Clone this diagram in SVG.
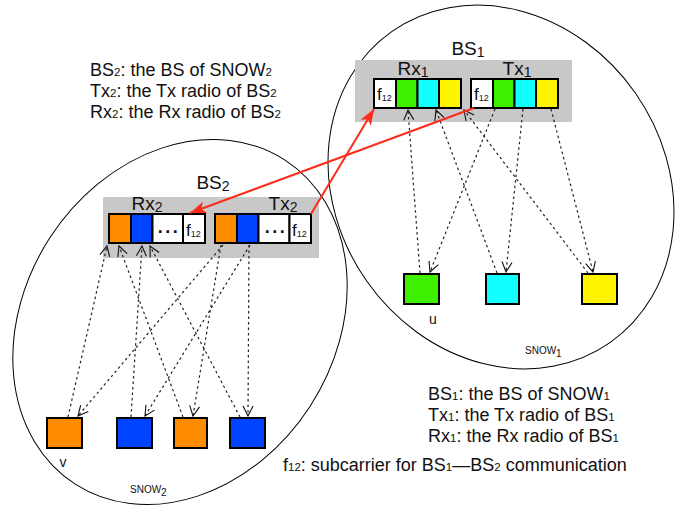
<svg xmlns="http://www.w3.org/2000/svg" width="692" height="514" viewBox="0 0 692 514">
<style>
text{font-family:"Liberation Sans",Arial,sans-serif;fill:#111}
.bg{fill:#c8c8c8}
.cell{stroke:#000;stroke-width:2}
.w{fill:#fff}.g{fill:#3ef000}.c{fill:#12ffff}.y{fill:#fff500}.o{fill:#ff8c00}.b{fill:#0044ff}
.ell{fill:none;stroke:#000;stroke-width:1}
.dash{fill:none;stroke:#222;stroke-width:1.2;stroke-dasharray:2.5 3}
.red{fill:none;stroke:#ff2a1a;stroke-width:2}
.big{font-size:19px}
.leg{font-size:18px}
.f{font-size:17px}
.dots{font-size:18px;font-weight:bold;letter-spacing:2.5px}
</style>
<defs>
<marker id="av" markerUnits="userSpaceOnUse" markerWidth="12" markerHeight="12" refX="10" refY="5" orient="auto" overflow="visible">
<path d="M0,0 L10,5 L0,10" fill="none" stroke="#111" stroke-width="1.1"/>
</marker>
<marker id="ar" markerUnits="userSpaceOnUse" markerWidth="18" markerHeight="14" refX="16" refY="6" orient="auto" overflow="visible">
<path d="M0,0 L16,6 L0,12 L4,6 Z" fill="#ff2a1a"/>
</marker>
</defs>

<ellipse class="ell" cx="501" cy="187" rx="164" ry="190" transform="rotate(-35 501 187)"/>
<ellipse class="ell" cx="180" cy="322" rx="155" ry="193" transform="rotate(33 180 322)"/>

<g id="legend2">
<text class="leg" x="90" y="76">BS<tspan font-size="11.5">2</tspan>: the BS of SNOW<tspan font-size="11.5">2</tspan></text>
<text class="leg" x="90" y="97">Tx<tspan font-size="11.5">2</tspan>: the Tx radio of BS<tspan font-size="11.5">2</tspan></text>
<text class="leg" x="90" y="118">Rx<tspan font-size="11.5">2</tspan>: the Rx radio of BS<tspan font-size="11.5">2</tspan></text>
</g>
<g id="legend1">
<text class="leg" x="428" y="400">BS<tspan font-size="11.5">1</tspan>: the BS of SNOW<tspan font-size="11.5">1</tspan></text>
<text class="leg" x="428" y="421">Tx<tspan font-size="11.5">1</tspan>: the Tx radio of BS<tspan font-size="11.5">1</tspan></text>
<text class="leg" x="428" y="442">Rx<tspan font-size="11.5">1</tspan>: the Rx radio of BS<tspan font-size="11.5">1</tspan></text>
<text class="leg" x="283" y="471">f<tspan font-size="11.5">12</tspan>: subcarrier for BS<tspan font-size="11.5">1</tspan>—BS<tspan font-size="11.5">2</tspan> communication</text>
</g>

<g id="bs1">
<rect class="bg" x="355" y="60" width="217" height="62"/>
<text class="big" x="468" y="55" text-anchor="middle">BS<tspan font-size="14" dy="2">1</tspan></text>
<text class="big" x="413" y="75" text-anchor="middle">Rx<tspan font-size="14" dy="2">1</tspan></text>
<text class="big" x="517" y="75" text-anchor="middle">Tx<tspan font-size="14" dy="2">1</tspan></text>
<rect class="cell w" x="374" y="79" width="22" height="29"/>
<rect class="cell g" x="396" y="79" width="21.5" height="29"/>
<rect class="cell c" x="417.5" y="79" width="21.5" height="29"/>
<rect class="cell y" x="439" y="79" width="22" height="29"/>
<text class="f" x="377" y="100">f<tspan font-size="9" dy="1">12</tspan></text>
<rect class="cell w" x="471" y="79" width="22" height="29"/>
<rect class="cell g" x="493" y="79" width="21.5" height="29"/>
<rect class="cell c" x="514.5" y="79" width="21.5" height="29"/>
<rect class="cell y" x="536" y="79" width="22" height="29"/>
<text class="f" x="474" y="100">f<tspan font-size="9" dy="1">12</tspan></text>
</g>

<g id="bs2">
<rect class="bg" x="103" y="197" width="216" height="61"/>
<text class="big" x="213" y="189" text-anchor="middle">BS<tspan font-size="14" dy="2">2</tspan></text>
<text class="big" x="147" y="210" text-anchor="middle">Rx<tspan font-size="14" dy="2">2</tspan></text>
<text class="big" x="283" y="210" text-anchor="middle">Tx<tspan font-size="14" dy="2">2</tspan></text>
<rect class="cell o" x="109" y="214" width="22" height="29"/>
<rect class="cell b" x="131" y="214" width="21.5" height="29"/>
<rect class="cell w" x="152.5" y="214" width="30.5" height="29"/>
<rect class="cell w" x="183" y="214" width="22" height="29"/>
<text class="dots" x="169" y="233" text-anchor="middle">...</text>
<text class="f" x="186" y="236">f<tspan font-size="9" dy="1">12</tspan></text>
<rect class="cell o" x="215" y="214" width="22" height="29"/>
<rect class="cell b" x="237" y="214" width="21.5" height="29"/>
<rect class="cell w" x="258.5" y="214" width="31" height="29"/>
<rect class="cell w" x="289.5" y="214" width="21.5" height="29"/>
<text class="dots" x="276" y="233" text-anchor="middle">...</text>
<text class="f" x="292" y="236">f<tspan font-size="9" dy="1">12</tspan></text>
</g>

<g id="snow1">
<g id="node-u"><rect class="cell g" x="404" y="274" width="35" height="30"/><text x="433" y="324" font-size="14" text-anchor="middle">u</text></g>
<g id="node-cyan"><rect class="cell c" x="486" y="274" width="33" height="30"/></g>
<g id="node-yellow"><rect class="cell y" x="582" y="274" width="35" height="30"/></g>
<text x="525" y="354" font-size="10">SNOW<tspan dy="3">1</tspan></text>
</g>

<g id="snow2">
<g id="node-v"><rect class="cell o" x="47" y="418" width="35" height="30"/><text x="63" y="467" font-size="14" text-anchor="middle">v</text></g>
<g id="node-blue1"><rect class="cell b" x="117" y="418" width="35" height="30"/></g>
<g id="node-orange2"><rect class="cell o" x="174" y="418" width="33" height="30"/></g>
<g id="node-blue2"><rect class="cell b" x="230" y="418" width="35" height="30"/></g>
<text x="130" y="493" font-size="10">SNOW<tspan dy="3">2</tspan></text>
</g>

<g id="connectors">
<line class="dash" x1="420" y1="273" x2="408" y2="110" marker-end="url(#av)"/>
<line class="dash" x1="497" y1="273" x2="436" y2="110" marker-end="url(#av)"/>
<line class="dash" x1="588" y1="273" x2="464" y2="110" marker-end="url(#av)"/>
<line class="dash" x1="495" y1="109" x2="430" y2="272" marker-end="url(#av)"/>
<line class="dash" x1="523" y1="109" x2="506" y2="272" marker-end="url(#av)"/>
<line class="dash" x1="551" y1="109" x2="593" y2="272" marker-end="url(#av)"/>

<line class="dash" x1="68" y1="417" x2="107" y2="246" marker-end="url(#av)"/>
<line class="dash" x1="183" y1="417" x2="119" y2="246" marker-end="url(#av)"/>
<line class="dash" x1="131" y1="417" x2="142" y2="246" marker-end="url(#av)"/>
<line class="dash" x1="240" y1="417" x2="150" y2="246" marker-end="url(#av)"/>
<line class="dash" x1="223" y1="245" x2="78" y2="416" marker-end="url(#av)"/>
<line class="dash" x1="221" y1="245" x2="193" y2="416" marker-end="url(#av)"/>
<line class="dash" x1="250" y1="245" x2="145" y2="416" marker-end="url(#av)"/>
<line class="dash" x1="249" y1="245" x2="248" y2="416" marker-end="url(#av)"/>

<line class="red" x1="311" y1="214" x2="374" y2="109" marker-end="url(#ar)"/>
<line class="red" x1="474" y1="108" x2="190" y2="213" marker-end="url(#ar)"/>
</g>
</svg>
